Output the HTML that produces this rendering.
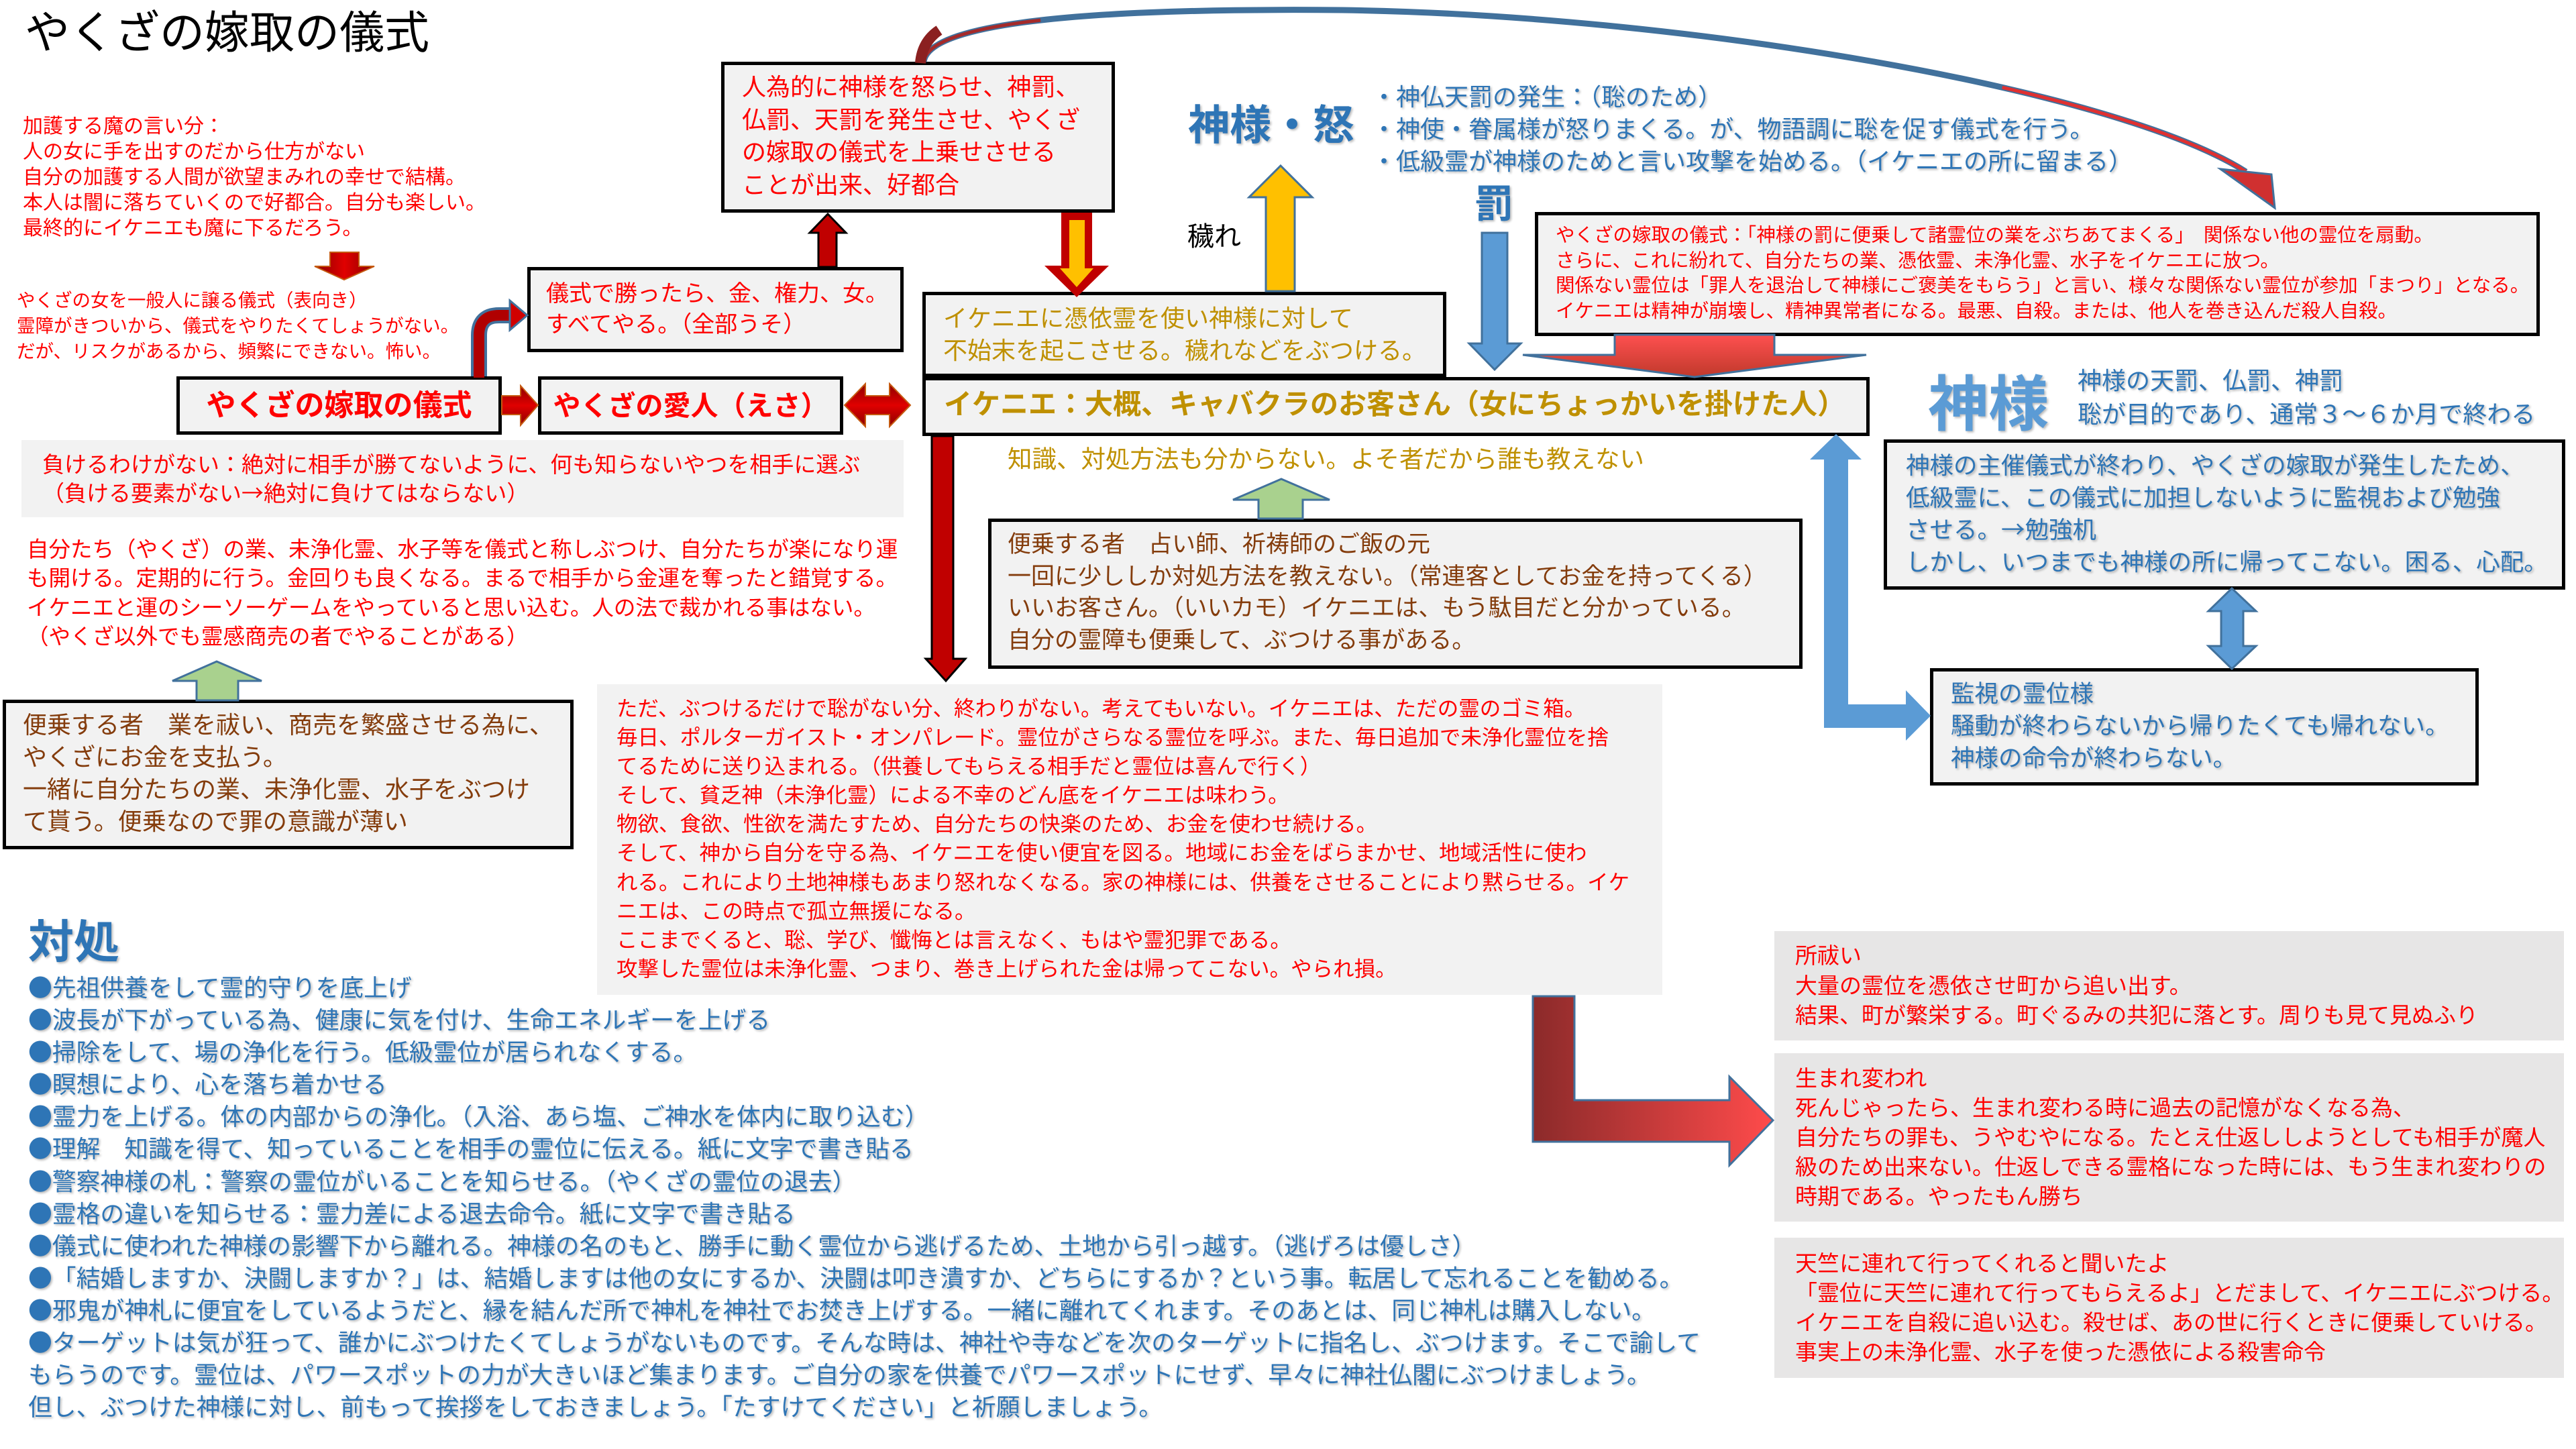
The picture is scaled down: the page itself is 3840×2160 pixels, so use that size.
<!DOCTYPE html>
<html><head><meta charset="utf-8">
<style>
body{margin:0;width:3840px;height:2160px;position:relative;background:#fff;overflow:hidden;font-family:"Liberation Sans","Noto Sans CJK JP",sans-serif;}
.t{position:absolute;white-space:nowrap;}
.b{position:absolute;box-sizing:border-box;background:#F2F2F2;border:5px solid #000;}
.g{position:absolute;background:#F2F2F2;}
.h{position:absolute;background:#E7E6E6;}
.red{color:#FF0000;}
.gold{color:#BF9000;}
.blue{color:#2E75B6;text-shadow:2px 2px 3px rgba(0,0,0,0.28);}
.brown{color:#843C0C;}
.c{font-family:"Noto Sans CJK JP",sans-serif;line-height:0;}
svg{position:absolute;left:0;top:0;}
</style></head><body>

<!-- boxes -->
<div class="b" style="left:263px;top:561px;width:485px;height:87px;"></div>
<div class="b" style="left:802px;top:561px;width:455px;height:87px;"></div>
<div class="b" style="left:1375px;top:562px;width:1412px;height:88px;"></div>
<div class="b" style="left:786px;top:398px;width:561px;height:127px;"></div>
<div class="b" style="left:1075px;top:92px;width:587px;height:225px;"></div>
<div class="b" style="left:1375px;top:435px;width:781px;height:127px;"></div>
<div class="b" style="left:2288px;top:316px;width:1498px;height:185px;"></div>
<div class="b" style="left:2808px;top:655px;width:1016px;height:224px;"></div>
<div class="b" style="left:2877px;top:996px;width:818px;height:175px;"></div>
<div class="b" style="left:1473px;top:773px;width:1214px;height:224px;"></div>
<div class="b" style="left:4px;top:1043px;width:851px;height:223px;"></div>
<div class="g" style="left:32px;top:656px;width:1315px;height:115px;"></div>
<div class="g" style="left:890px;top:1020px;width:1588px;height:463px;"></div>
<div class="h" style="left:2645px;top:1388px;width:1177px;height:163px;"></div>
<div class="h" style="left:2645px;top:1570px;width:1177px;height:251px;"></div>
<div class="h" style="left:2645px;top:1845px;width:1177px;height:209px;"></div>

<!-- arrows -->
<svg width="3840" height="2160" viewBox="0 0 3840 2160">
<defs>
<linearGradient id="rv" x1="0" y1="0" x2="0" y2="1"><stop offset="0" stop-color="#FF5050"/><stop offset="1" stop-color="#C0392B"/></linearGradient>
<linearGradient id="rh" x1="0" y1="0" x2="1" y2="0"><stop offset="0" stop-color="#8B2A2A"/><stop offset="1" stop-color="#FF4B4B"/></linearGradient>
<linearGradient id="dr" x1="0" y1="0" x2="1" y2="0"><stop offset="0" stop-color="#8B0000"/><stop offset="0.5" stop-color="#E00000"/><stop offset="1" stop-color="#8B0000"/></linearGradient>
<linearGradient id="drv" x1="0" y1="0" x2="0" y2="1"><stop offset="0" stop-color="#8B0000"/><stop offset="0.5" stop-color="#E00000"/><stop offset="1" stop-color="#8B0000"/></linearGradient>
</defs>
<polygon points="492,376 535,376 535,397 558,397 513,417 469,397 492,397" fill="url(#dr)" stroke="#C55A11" stroke-width="2"/>
<polygon points="748,590 776,590 776,575 802,604 776,634 776,618 748,618" fill="url(#drv)" stroke="#C55A11" stroke-width="2"/>
<polygon points="1259,604 1290,572 1290,590 1326,590 1326,572 1357,604 1326,636 1326,618 1290,618 1290,636" fill="url(#drv)" stroke="#C55A11" stroke-width="2"/>
<path d="M714 561 L714 500 Q714 470 744 470 L764 470" fill="none" stroke="#41719C" stroke-width="24"/>
<path d="M714 563 L714 500 Q714 470 744 470 L766 470" fill="none" stroke="#B00000" stroke-width="16"/>
<polygon points="760,448 786,470 760,492" fill="#D00000" stroke="#41719C" stroke-width="3"/>
<polygon points="1234,319 1261,347 1247,347 1247,398 1220,398 1220,347 1207,347" fill="#C00000" stroke="#000" stroke-width="3"/>
<polygon points="1582,317 1628,317 1628,396 1653,396 1605,443 1557,396 1582,396" fill="#C00000"/>
<polygon points="1594,328 1617,328 1617,400 1630,400 1605,428 1580,400 1594,400" fill="#FFC000"/>
<polygon points="1909,247 1956,294 1930,294 1930,434 1887,434 1887,294 1862,294" fill="#FFC000" stroke="#41719C" stroke-width="3"/>
<polygon points="2209,347 2247,347 2247,512 2267,512 2228,551 2190,512 2209,512" fill="#5B9BD5" stroke="#41719C" stroke-width="3"/>
<path d="M1377 92 C1385 30 1650 12 2000 15 C2500 22 3150 130 3348 256" fill="none" stroke="#41719C" stroke-width="9"/>
<path d="M1377 92 C1385 30 1650 12 2000 15" fill="none" stroke="#A52A2A" stroke-width="5" pathLength="100" stroke-dasharray="30 70 0 0"/>
<path d="M1372 94 C1374 70 1385 55 1400 45" fill="none" stroke="#8B2020" stroke-width="16"/>
<path d="M2000 15 C2500 22 3150 130 3348 256" fill="none" stroke="#E03030" stroke-width="5" pathLength="100" stroke-dasharray="0 72 28 0"/>
<polygon points="3310,252 3391,310 3386,260" fill="#D03030" stroke="#41719C" stroke-width="3"/>
<polygon points="2407,499 2645,499 2645,529 2782,529 2526,562 2270,529 2407,529" fill="url(#rv)" stroke="#41719C" stroke-width="3"/>
<polygon points="2737,647 2775,685 2755,685 2755,1050 2841,1050 2841,1029 2878,1067 2841,1104 2841,1085 2719,1085 2719,685 2698,685" fill="#5B9BD5"/>
<polygon points="3327,877 3363,911 3344,911 3344,963 3363,963 3327,997 3292,963 3311,963 3311,911 3292,911" fill="#5B9BD5" stroke="#41719C" stroke-width="3"/>
<polygon points="1389,650 1421,650 1421,982 1439,982 1410,1015 1380,982 1389,982" fill="#C00000" stroke="#000" stroke-width="3"/>
<polygon points="1910,714 1982,745 1942,745 1942,773 1876,773 1876,745 1838,745" fill="#A9D18E" stroke="#41719C" stroke-width="3"/>
<polygon points="323,986 390,1015 355,1015 355,1044 293,1044 293,1015 257,1015" fill="#A9D18E" stroke="#41719C" stroke-width="3"/>
<polygon points="2285,1485 2347,1485 2347,1640 2578,1640 2578,1605 2643,1670 2578,1737 2578,1702 2285,1702" fill="url(#rh)" stroke="#41719C" stroke-width="3"/>
</svg>

<!-- texts -->
<div class="t" style="left:37px;top:10px;font-size:67px;line-height:80px;color:#000;">やくざの嫁取の儀式</div>

<div class="t red" style="left:34px;top:170px;font-size:30px;line-height:38px;">加護する魔の言い分：<br>人の女に手を出すのだから仕方がない<br>自分の加護する人間が欲望まみれの幸せで結構。<br>本人は闇に落ちていくので好都合。自分も楽しい。<br>最終的にイケニエも魔に下るだろう。</div>

<div class="t red" style="left:25px;top:429px;font-size:27.5px;line-height:38px;">やくざの女を一般人に譲る儀式（表向き）<br>霊障がきついから、儀式をやりたくてしょうがない。<br>だが、リスクがあるから、頻繁にできない。怖い。</div>

<div class="t red" style="left:263px;top:575px;width:485px;text-align:center;font-size:44px;line-height:60px;font-weight:bold;">やくざの嫁取の儀式</div>
<div class="t red" style="left:802px;top:575px;width:455px;text-align:center;font-size:41px;line-height:60px;font-weight:bold;">やくざの愛人（えさ）</div>
<div class="t gold" style="left:1407px;top:575px;font-size:42px;line-height:56px;font-weight:bold;">イケニエ：大概、キャバクラのお客さん（女にちょっかいを掛けた人）</div>

<div class="t red" style="left:814px;top:415px;font-size:34px;line-height:46px;">儀式で勝ったら、金、権力、女。<br>すべてやる。（全部うそ）</div>

<div class="t red" style="left:1106px;top:106px;font-size:36px;line-height:48.5px;">人為的に神様を怒らせ、神罰、<br>仏罰、天罰を発生させ、やくざ<br>の嫁取の儀式を上乗せさせる<br>ことが出来、好都合</div>

<div class="t gold" style="left:1406px;top:451px;font-size:36px;line-height:48px;">イケニエに憑依霊を使い神様に対して<br>不始末を起こさせる。穢れなどをぶつける。</div>

<div class="t" style="left:1770px;top:328px;font-size:40px;line-height:50px;color:#000;">穢れ</div>

<div class="t blue" style="left:1771px;top:153px;font-size:62px;line-height:70px;font-weight:bold;">神様・怒</div>

<div class="t blue" style="left:2045px;top:121px;font-size:36px;line-height:48px;">・神仏天罰の発生：（聡のため）<br>・神使・眷属様が怒りまくる。が、物語調に聡を促す儀式を行う。<br>・低級霊が神様のためと言い攻撃を始める。（イケニエの所に留まる）</div>

<div class="t blue" style="left:2198px;top:273px;font-size:58px;line-height:64px;font-weight:bold;">罰</div>

<div class="t red" style="left:2319px;top:333px;font-size:28.5px;line-height:37.5px;">やくざの嫁取の儀式：「神様の罰に便乗して諸霊位の業をぶちあてまくる」　関係ない他の霊位を扇動。<br>さらに、これに紛れて、自分たちの業、憑依霊、未浄化霊、水子をイケニエに放つ。<br>関係ない霊位は「罪人を退治して神様にご褒美をもらう」と言い、様々な関係ない霊位が参加「まつり」となる。<br>イケニエは精神が崩壊し、精神異常者になる。最悪、自殺。または、他人を巻き込んだ殺人自殺。</div>

<div class="t blue" style="left:2874px;top:554px;font-size:90px;line-height:100px;font-weight:bold;color:#5B9BD5;">神様</div>
<div class="t blue" style="left:3097px;top:543px;font-size:36px;line-height:50px;">神様の天罰、仏罰、神罰<br>聡が目的であり、通常３～６か月で終わる</div>

<div class="t blue" style="left:2841px;top:670px;font-size:35.5px;line-height:48px;">神様の主催儀式が終わり、やくざの嫁取が発生したため、<br>低級霊に、この儀式に加担しないように監視および勉強<br>させる。<span class="c">→</span>勉強机<br>しかし、いつまでも神様の所に帰ってこない。困る、心配。</div>

<div class="t blue" style="left:2908px;top:1010px;font-size:35.5px;line-height:48px;">監視の霊位様<br>騒動が終わらないから帰りたくても帰れない。<br>神様の命令が終わらない。</div>

<div class="t gold" style="left:1502px;top:661px;font-size:36.5px;line-height:48px;">知識、対処方法も分からない。よそ者だから誰も教えない</div>

<div class="t brown" style="left:1502px;top:788px;font-size:35px;line-height:47.7px;">便乗する者　占い師、祈祷師のご飯の元<br>一回に少ししか対処方法を教えない。（常連客としてお金を持ってくる）<br>いいお客さん。（いいカモ）イケニエは、もう駄目だと分かっている。<br>自分の霊障も便乗して、ぶつける事がある。</div>

<div class="t red" style="left:63px;top:671px;font-size:33px;line-height:43px;">負けるわけがない：絶対に相手が勝てないように、何も知らないやつを相手に選ぶ<br>（負ける要素がない<span class="c">→</span>絶対に負けてはならない）</div>

<div class="t red" style="left:40px;top:798px;font-size:32.5px;line-height:43.3px;">自分たち（やくざ）の業、未浄化霊、水子等を儀式と称しぶつけ、自分たちが楽になり運<br>も開ける。定期的に行う。金回りも良くなる。まるで相手から金運を奪ったと錯覚する。<br>イケニエと運のシーソーゲームをやっていると思い込む。人の法で裁かれる事はない。<br>（やくざ以外でも霊感商売の者でやることがある）</div>

<div class="t brown" style="left:34px;top:1057px;font-size:36px;line-height:48px;">便乗する者　業を祓い、商売を繁盛させる為に、<br>やくざにお金を支払う。<br>一緒に自分たちの業、未浄化霊、水子をぶつけ<br>て貰う。便乗なので罪の意識が薄い</div>

<div class="t red" style="left:919px;top:1035px;font-size:31.5px;line-height:43.1px;">ただ、ぶつけるだけで聡がない分、終わりがない。考えてもいない。イケニエは、ただの霊のゴミ箱。<br>毎日、ポルターガイスト・オンパレード。霊位がさらなる霊位を呼ぶ。また、毎日追加で未浄化霊位を捨<br>てるために送り込まれる。（供養してもらえる相手だと霊位は喜んで行く）<br>そして、貧乏神（未浄化霊）による不幸のどん底をイケニエは味わう。<br>物欲、食欲、性欲を満たすため、自分たちの快楽のため、お金を使わせ続ける。<br>そして、神から自分を守る為、イケニエを使い便宜を図る。地域にお金をばらまかせ、地域活性に使わ<br>れる。これにより土地神様もあまり怒れなくなる。家の神様には、供養をさせることにより黙らせる。イケ<br>ニエは、この時点で孤立無援になる。<br>ここまでくると、聡、学び、懺悔とは言えなく、もはや霊犯罪である。<br>攻撃した霊位は未浄化霊、つまり、巻き上げられた金は帰ってこない。やられ損。</div>

<div class="t blue" style="left:42px;top:1367px;font-size:68px;line-height:76px;font-weight:bold;">対処</div>

<div class="t blue" style="left:42px;top:1449px;font-size:35.8px;line-height:48.1px;"><span class="c">●</span>先祖供養をして霊的守りを底上げ<br><span class="c">●</span>波長が下がっている為、健康に気を付け、生命エネルギーを上げる<br><span class="c">●</span>掃除をして、場の浄化を行う。低級霊位が居られなくする。<br><span class="c">●</span>瞑想により、心を落ち着かせる<br><span class="c">●</span>霊力を上げる。体の内部からの浄化。（入浴、あら塩、ご神水を体内に取り込む）<br><span class="c">●</span>理解　知識を得て、知っていることを相手の霊位に伝える。紙に文字で書き貼る<br><span class="c">●</span>警察神様の札：警察の霊位がいることを知らせる。（やくざの霊位の退去）<br><span class="c">●</span>霊格の違いを知らせる：霊力差による退去命令。紙に文字で書き貼る<br><span class="c">●</span>儀式に使われた神様の影響下から離れる。神様の名のもと、勝手に動く霊位から逃げるため、土地から引っ越す。（逃げろは優しさ）<br><span class="c">●</span>「結婚しますか、決闘しますか？」は、結婚しますは他の女にするか、決闘は叩き潰すか、どちらにするか？という事。転居して忘れることを勧める。<br><span class="c">●</span>邪鬼が神札に便宜をしているようだと、縁を結んだ所で神札を神社でお焚き上げする。一緒に離れてくれます。そのあとは、同じ神札は購入しない。<br><span class="c">●</span>ターゲットは気が狂って、誰かにぶつけたくてしょうがないものです。そんな時は、神社や寺などを次のターゲットに指名し、ぶつけます。そこで諭して<br>もらうのです。霊位は、パワースポットの力が大きいほど集まります。ご自分の家を供養でパワースポットにせず、早々に神社仏閣にぶつけましょう。<br>但し、ぶつけた神様に対し、前もって挨拶をしておきましょう。「たすけてください」と祈願しましょう。</div>

<div class="t red" style="left:2676px;top:1403px;font-size:33px;line-height:44.5px;">所祓い<br>大量の霊位を憑依させ町から追い出す。<br>結果、町が繁栄する。町ぐるみの共犯に落とす。周りも見て見ぬふり</div>

<div class="t red" style="left:2676px;top:1586px;font-size:33px;line-height:44px;">生まれ変われ<br>死んじゃったら、生まれ変わる時に過去の記憶がなくなる為、<br>自分たちの罪も、うやむやになる。たとえ仕返ししようとしても相手が魔人<br>級のため出来ない。仕返しできる霊格になった時には、もう生まれ変わりの<br>時期である。やったもん勝ち</div>

<div class="t red" style="left:2676px;top:1862px;font-size:33px;line-height:44px;">天竺に連れて行ってくれると聞いたよ<br>「霊位に天竺に連れて行ってもらえるよ」とだまして、イケニエにぶつける。<br>イケニエを自殺に追い込む。殺せば、あの世に行くときに便乗していける。<br>事実上の未浄化霊、水子を使った憑依による殺害命令</div>

</body></html>
